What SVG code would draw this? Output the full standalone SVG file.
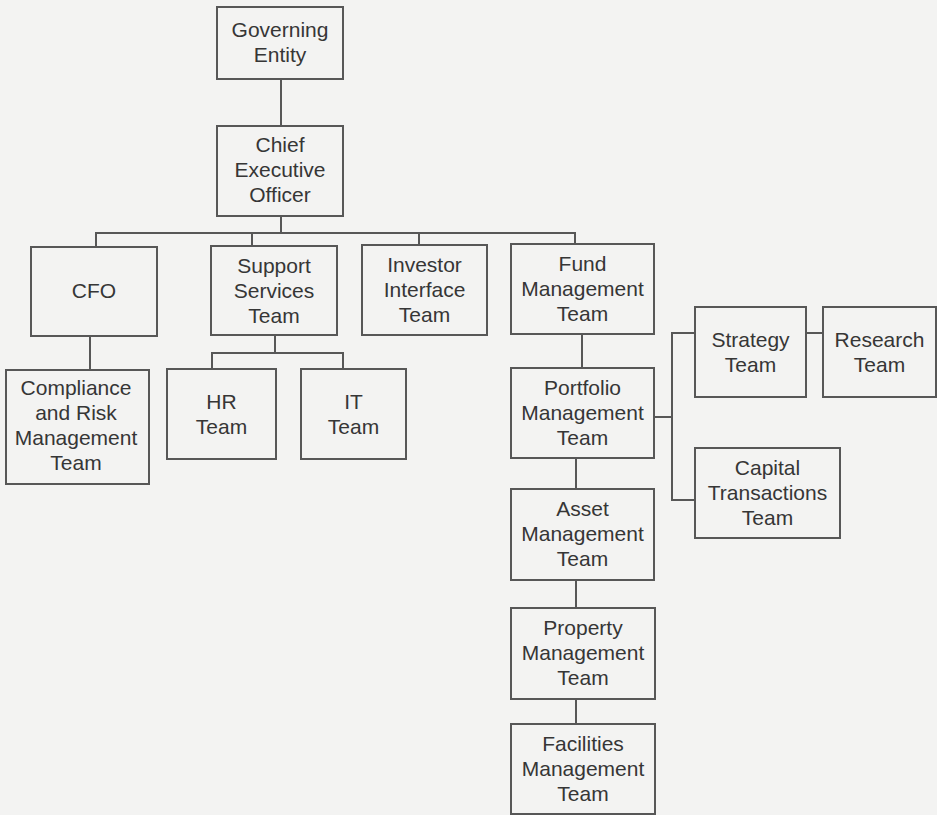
<svg xmlns="http://www.w3.org/2000/svg" width="937" height="815" viewBox="0 0 937 815">
<style>
.bg{fill:#f3f3f2}
.box{fill:none;stroke:#575757;stroke-width:2}
.lbl{font-family:"Liberation Sans",Arial,Helvetica,sans-serif;font-size:21px;fill:#363636;text-anchor:middle}
.con{fill:none;stroke:#575757;stroke-width:2}
</style>
<rect class="bg" x="0" y="0" width="937" height="815"/>
<g id="connectors">
<path class="con" d="M281 79V126"/>
<path class="con" d="M281 216V233M96 247V233H575V244M252 233V246M419 233V245"/>
<path class="con" d="M90 336V370"/>
<path class="con" d="M275 335V353M212 369V353H343V369"/>
<path class="con" d="M582 334V368"/>
<path class="con" d="M654 417H672M695 333H672V500H695"/>
<path class="con" d="M806 333H823"/>
<path class="con" d="M576 458V489M576 580V608M576 699V724"/>
</g>
<g id="gov"><rect class="box" x="217" y="7" width="126" height="72"/><text class="lbl" x="280" y="37">Governing</text><text class="lbl" x="280" y="62">Entity</text></g>
<g id="ceo"><rect class="box" x="217" y="126" width="126" height="90"/><text class="lbl" x="280" y="152">Chief</text><text class="lbl" x="280" y="177">Executive</text><text class="lbl" x="280" y="202">Officer</text></g>
<g id="cfo"><rect class="box" x="31" y="247" width="126" height="89"/><text class="lbl" x="94" y="298">CFO</text></g>
<g id="support"><rect class="box" x="211" y="246" width="126" height="89"/><text class="lbl" x="274" y="273">Support</text><text class="lbl" x="274" y="298">Services</text><text class="lbl" x="274" y="323">Team</text></g>
<g id="investor"><rect class="box" x="362" y="245" width="125" height="90"/><text class="lbl" x="424.5" y="272">Investor</text><text class="lbl" x="424.5" y="297">Interface</text><text class="lbl" x="424.5" y="322">Team</text></g>
<g id="fund"><rect class="box" x="511" y="244" width="143" height="90"/><text class="lbl" x="582.5" y="271">Fund</text><text class="lbl" x="582.5" y="296">Management</text><text class="lbl" x="582.5" y="321">Team</text></g>
<g id="compliance"><rect class="box" x="6" y="370" width="143" height="114"/><text class="lbl" x="76" y="395">Compliance</text><text class="lbl" x="76" y="420">and Risk</text><text class="lbl" x="76" y="445">Management</text><text class="lbl" x="76" y="470">Team</text></g>
<g id="hr"><rect class="box" x="167" y="369" width="109" height="90"/><text class="lbl" x="221.5" y="409">HR</text><text class="lbl" x="221.5" y="434">Team</text></g>
<g id="it"><rect class="box" x="301" y="369" width="105" height="90"/><text class="lbl" x="353.5" y="409">IT</text><text class="lbl" x="353.5" y="434">Team</text></g>
<g id="portfolio"><rect class="box" x="511" y="368" width="143" height="90"/><text class="lbl" x="582.5" y="395">Portfolio</text><text class="lbl" x="582.5" y="420">Management</text><text class="lbl" x="582.5" y="445">Team</text></g>
<g id="strategy"><rect class="box" x="695" y="307" width="111" height="90"/><text class="lbl" x="750.5" y="347">Strategy</text><text class="lbl" x="750.5" y="372">Team</text></g>
<g id="research"><rect class="box" x="823" y="307" width="113" height="90"/><text class="lbl" x="879.5" y="347">Research</text><text class="lbl" x="879.5" y="372">Team</text></g>
<g id="capital"><rect class="box" x="695" y="448" width="145" height="90"/><text class="lbl" x="767.5" y="475">Capital</text><text class="lbl" x="767.5" y="500">Transactions</text><text class="lbl" x="767.5" y="525">Team</text></g>
<g id="asset"><rect class="box" x="511" y="489" width="143" height="91"/><text class="lbl" x="582.5" y="516">Asset</text><text class="lbl" x="582.5" y="541">Management</text><text class="lbl" x="582.5" y="566">Team</text></g>
<g id="property"><rect class="box" x="511" y="608" width="144" height="91"/><text class="lbl" x="583" y="635">Property</text><text class="lbl" x="583" y="660">Management</text><text class="lbl" x="583" y="685">Team</text></g>
<g id="facilities"><rect class="box" x="511" y="724" width="144" height="90"/><text class="lbl" x="583" y="751">Facilities</text><text class="lbl" x="583" y="776">Management</text><text class="lbl" x="583" y="801">Team</text></g>
</svg>
